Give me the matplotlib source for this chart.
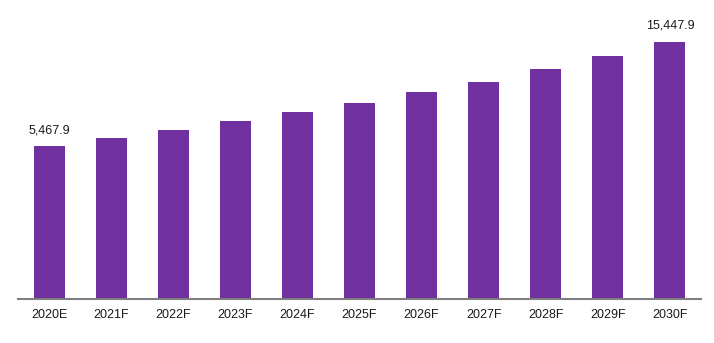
import numpy as np
import matplotlib.pyplot as plt

plt.rcParams['font.family'] = ['Liberation Sans', 'DejaVu Sans']

years = ['2020E', '2021F', '2022F', '2023F', '2024F', '2025F',
         '2026F', '2027F', '2028F', '2029F', '2030F']
values = [5467.9, 6228, 6989, 7844, 8699, 9555, 10600, 11646, 12882, 14117, 15447.9]
labelled = {0: '5,467.9', 10: '15,447.9'}

YMIN = -9046
YMAX = 18460

fig = plt.figure(figsize=(7.14, 3.43), dpi=100)
ax = fig.add_axes([18 / 714, 44.3 / 343, 683 / 714, (298.7 - 10) / 343])

x = np.arange(len(years))
vals = np.array(values)
ax.bar(x, vals - YMIN, bottom=YMIN, width=0.5, color='#7030A0', zorder=2)

for i, txt in labelled.items():
    ax.annotate(txt, (x[i], values[i]), xytext=(0, 7), textcoords='offset points',
                ha='center', va='bottom', fontsize=9, color='#1a1a1a')

ax.set_xlim(-0.5, len(years) - 0.5)
ax.set_ylim(YMIN, YMAX)
ax.set_xticks(x)
ax.set_xticklabels(years, fontsize=9, color='#1a1a1a')
ax.tick_params(axis='x', length=0, pad=7.5)
ax.set_yticks([])

for s in ['top', 'right', 'left']:
    ax.spines[s].set_visible(False)
ax.spines['bottom'].set_color('#7f7f7f')
ax.spines['bottom'].set_linewidth(1.5)
ax.spines['bottom'].set_zorder(3)

fig.savefig('out.png', dpi=100)
